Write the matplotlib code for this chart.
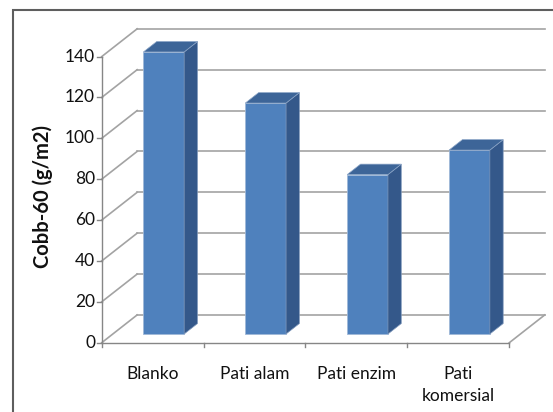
import matplotlib
matplotlib.use("Agg")
import matplotlib.pyplot as plt
from matplotlib.patches import Polygon, Rectangle

plt.rcParams["font.family"] = ["Lato", "DejaVu Sans"]

# data
categories = ["Blanko", "Pati alam", "Pati enzim", "Pati\nkomersial"]
values = [138, 113, 78, 90]
y_ticks = [0, 20, 40, 60, 80, 100, 120, 140]
y_label = "Cobb-60 (g/m2)"

# oblique 3d look: offset of the back wall in data units
DX = 0.348
DV = 13.6
D0, D1 = 0.314, 0.69   # bar depth range
BAR_W = 0.40

FRONT = "#4f81bd"
SIDE = "#34588a"
TOP = "#3d6598"
GRID = "#a3a3a3"
AXIS = "#868686"


def proj(x, v, d):
    return (x + d * DX, v + d * DV)


fig = plt.figure(figsize=(5.53, 4.12), dpi=100)
ax = fig.add_axes([0, 0, 1, 1])
ax.set_xlim(-1.498, 3.929)
ax.set_ylim(-33.9, 167.7)
ax.axis("off")

n = len(categories)
x0, x1 = -0.5, n - 0.5

# back wall + left wall gridlines
for v in y_ticks:
    ax.plot(*zip(proj(x0, v, 1), proj(x1, v, 1)), color=GRID, lw=1.2, zorder=1)
    ax.plot(*zip(proj(x0, v, 0), proj(x0, v, 1)), color=GRID, lw=1.2, zorder=1)
# floor right edge
ax.plot(*zip(proj(x1, 0, 0), proj(x1, 0, 1)), color=GRID, lw=1.2, zorder=1)

# bars
for i, val in enumerate(values):
    xl = i - BAR_W / 2 + D0 * DX
    xr = xl + BAR_W
    b = D0 * DV
    dd = D1 - D0
    ax.bar(xl, val, width=BAR_W, bottom=b, align="edge", color=FRONT,
           edgecolor="#9fb8d8", linewidth=0.6, zorder=3)
    side = [(xr, b), (xr, b + val), (xr + dd * DX, b + val + dd * DV), (xr + dd * DX, b + dd * DV)]
    top = [(xl, b + val), (xr, b + val), (xr + dd * DX, b + val + dd * DV), (xl + dd * DX, b + val + dd * DV)]
    ax.add_patch(Polygon(side, closed=True, facecolor=SIDE, edgecolor="#7f98bb", lw=0.5, zorder=3))
    ax.add_patch(Polygon(top, closed=True, facecolor=TOP, edgecolor="#8aa4c6", lw=0.5, zorder=3))

# front axes
ax.plot([x0, x0], [0, y_ticks[-1]], color=AXIS, lw=1.0, zorder=4)
ax.plot([x0, x1], [0, 0], color=AXIS, lw=1.0, zorder=4)
for v in y_ticks:
    ax.plot([x0 - 0.046, x0], [v, v], color=AXIS, lw=1.0, zorder=4)
    ax.text(x0 - 0.065, v, str(v), ha="right", va="center", fontsize=12.5, color="#111111")
for k in range(n + 1):
    ax.plot([x0 + k, x0 + k], [0, -2.2], color=AXIS, lw=1.0, zorder=4)
for i, c in enumerate(categories):
    ax.text(i, -11.5, c, ha="center", va="top", fontsize=12.5, color="#111111", linespacing=1.45)

fig.text(43 / 553, 1 - 197 / 412, y_label, rotation=90, ha="center", va="center",
         fontsize=14.5, fontweight="bold", color="#111111")

# chart area border (top and left visible)
fig.patches.append(Rectangle((13 / 553, -0.1), 1.2, 1 - 10 / 412 + 0.1, transform=fig.transFigure,
                             fill=False, edgecolor="#5e5e5e", lw=1.5))

fig.savefig("out.png", dpi=100)
